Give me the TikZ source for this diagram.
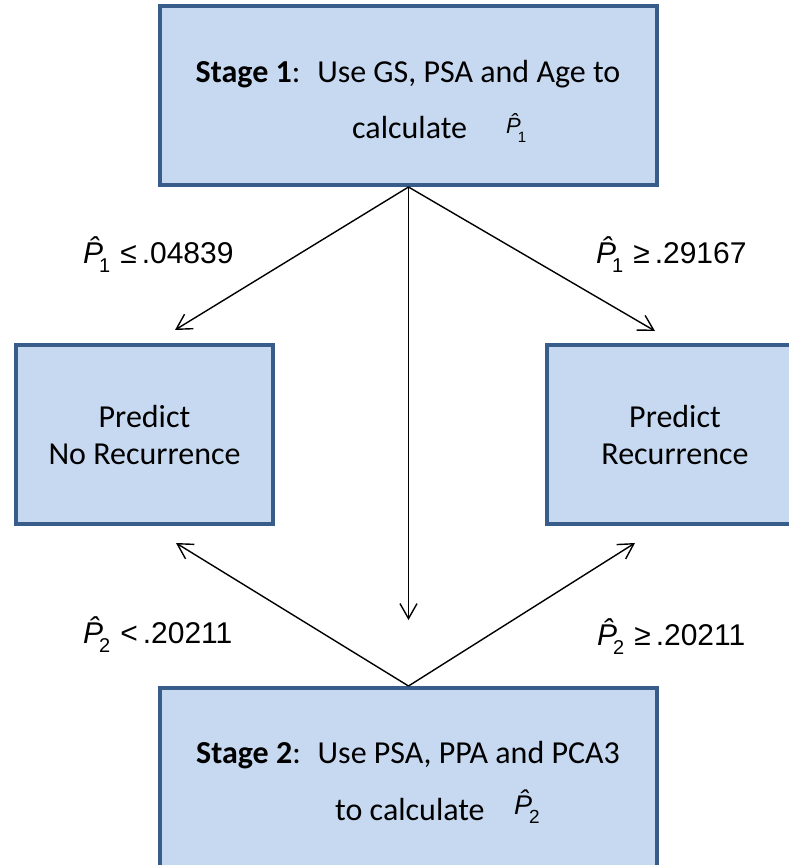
\documentclass[tikz,border=0pt]{standalone}
\usepackage{fontspec}
\setmainfont{Carlito}
\newfontfamily\arialf{Liberation Sans}
\usetikzlibrary{arrows.meta}
\definecolor{boxfill}{HTML}{C6D9F1}
\definecolor{boxdraw}{HTML}{385D8A}
\newcommand\phat[5]{{\fontsize{#1}{#1}\selectfont\itshape\^{P}}\kern-#5\raisebox{-#3}{\fontsize{#2}{#2}\selectfont #4}}
\begin{document}
\begin{tikzpicture}[x=1pt,y=-1pt,
  box/.style={draw=boxdraw, fill=boxfill, line width=4pt, inner sep=0pt},
  txt/.style={inner sep=0pt, font=\fontsize{32}{32}\selectfont},
  lbl/.style={inner sep=0pt, anchor=base west, font=\arialf\fontsize{30}{30}\selectfont},
  conn/.style={line width=1.4pt, -{Straight Barb[length=15pt,width=17pt,line width=1.4pt]}}]
\useasboundingbox (0,0) rectangle (789,865);
% boxes
\node[box, minimum width=497pt, minimum height=179pt] (s1) at (408.5,95.5) {};
\node[box, minimum width=257pt, minimum height=179pt] (nr) at (144.5,434.5) {};
\node[box, minimum width=257pt, minimum height=179pt] (r) at (675.5,434.5) {};
\node[box, minimum width=497pt, minimum height=179pt] (s2) at (408.5,777.5) {};
% box texts
\node[txt, anchor=base] (s1a) at (408,82) {\textbf{Stage 1}:~ Use GS, PSA and Age to};
\node[txt, anchor=base west] (s1b) at (352,138) {calculate};
\node[inner sep=0pt, anchor=base west, font=\arialf\fontsize{22}{22}\selectfont] (s1p) at (506,133) {\phat{22}{15}{9pt}{1}{3pt}};
\node[txt, anchor=base] (nra) at (144.5,427) {Predict};
\node[txt, anchor=base] (nrb) at (144.5,464) {No Recurrence};
\node[txt, anchor=base] (ra) at (675,427) {Predict};
\node[txt, anchor=base] (rb) at (675,464) {Recurrence};
\node[txt, anchor=base] (s2a) at (408,763) {\textbf{Stage 2}:~ Use PSA, PPA and PCA3};
\node[txt, anchor=base west] (s2b) at (335,820) {to calculate};
\node[inner sep=0pt, anchor=base west, font=\arialf\fontsize{27}{27}\selectfont] (s2p) at (514,814) {\phat{27}{19}{9pt}{2}{3pt}};
% connector end points
\coordinate (t1) at (175,330);
\coordinate (t2) at (655,331);
\coordinate (t3) at (408.5,620);
\coordinate (t4) at (176,543);
\coordinate (t5) at (635,543);
\draw[conn] (s1.south) -- (t1);
\draw[conn] (s1.south) -- (t2);
\draw[conn] (s1.south) -- (t3);
\draw[conn] (s2.north) -- (t4);
\draw[conn] (s2.north) -- (t5);
% labels
\node[lbl] (l1) at (83,263) {\phat{30}{20}{9pt}{1}{4pt}\hspace{10pt}≤\hspace{5pt}.04839};
\node[lbl] (l2) at (596,263) {\phat{30}{20}{9pt}{1}{4pt}\hspace{10pt}≥\hspace{5pt}.29167};
\node[lbl] (l3) at (83,643) {\phat{30}{20}{9pt}{2}{4pt}\hspace{10pt}<\hspace{5pt}.20211};
\node[lbl] (l4) at (597,645) {\phat{30}{20}{9pt}{2}{4pt}\hspace{10pt}≥\hspace{5pt}.20211};
\end{tikzpicture}
\end{document}
